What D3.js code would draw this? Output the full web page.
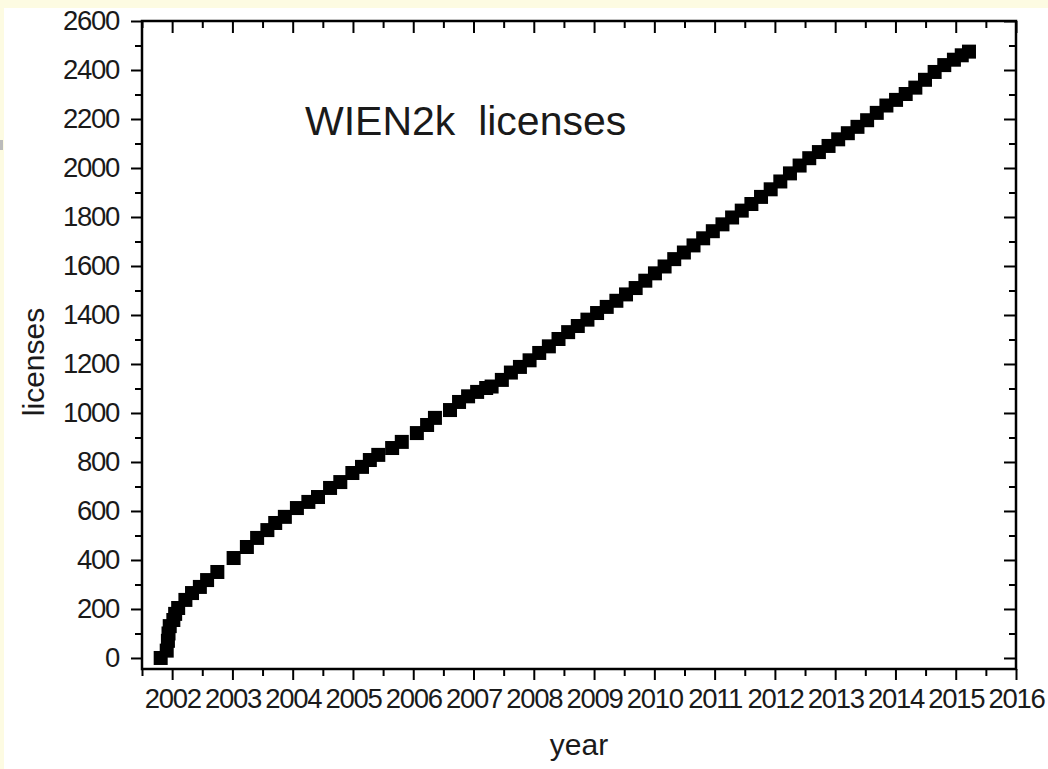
<!DOCTYPE html>
<html><head><meta charset="utf-8">
<script src="https://cdn.jsdelivr.net/npm/d3@7"></script>
<style>body{margin:0;background:#fff;overflow:hidden}</style>
</head><body>
<script>
const years = [2001.81, 2001.91, 2001.93, 2001.94, 2001.96, 2002.02, 2002.05, 2002.10, 2002.22, 2002.33, 2002.46, 2002.58, 2002.75,
  2003.02, 2003.24, 2003.41, 2003.58, 2003.71, 2003.87, 2004.07, 2004.26, 2004.42, 2004.62, 2004.79, 2004.99, 2005.15, 2005.28, 2005.42,
  2005.65, 2005.81, 2006.06, 2006.23, 2006.36,
  2006.61, 2006.76, 2006.91, 2007.06, 2007.21, 2007.30,
  2007.47, 2007.62, 2007.77, 2007.93, 2008.09, 2008.25, 2008.41, 2008.57, 2008.73, 2008.89, 2009.05, 2009.21, 2009.37,
  2009.53, 2009.69, 2009.85, 2010.01, 2010.17, 2010.33, 2010.49, 2010.65, 2010.81, 2010.97, 2011.13, 2011.29, 2011.45,
  2011.61, 2011.77, 2011.93, 2012.09, 2012.25, 2012.41, 2012.57, 2012.73, 2012.89, 2013.05, 2013.21, 2013.37, 2013.53,
  2013.69, 2013.85, 2014.01, 2014.17, 2014.33, 2014.49, 2014.65, 2014.81, 2014.97, 2015.10, 2015.22];
const licenses = [0, 30, 70, 100, 130, 155, 180, 204, 237, 265, 290, 318, 351,
  408, 453, 490, 522, 551, 576, 612, 637, 657, 694, 718, 755, 780, 808, 829,
  857, 882, 918, 951, 980,
  1012, 1045, 1068, 1086, 1102, 1108,
  1135, 1165, 1188, 1215, 1245, 1272, 1302, 1330, 1355, 1381, 1408, 1433, 1458,
  1484, 1510, 1540, 1570, 1598, 1628, 1655, 1684, 1713, 1742, 1770, 1798, 1826,
  1853, 1882, 1913, 1945, 1978, 2010, 2040, 2065, 2090, 2117, 2142, 2168, 2195,
  2225, 2255, 2278, 2302, 2328, 2360, 2392, 2420, 2442, 2460, 2475];
const xTickYears = d3.range(2002, 2017);
const xMinorYears = d3.range(2001.5, 2016, 1);
const yTickValues = d3.range(0, 2601, 200);
const yMinorValues = d3.range(100, 2600, 200);
const title = "WIEN2k\u00a0\u00a0licenses";
const xTitle = "year";
const yTitle = "licenses";

const W = 1048, H = 769;
const L = 142, R = 1016, T = 21, B = 669;
const font = "'Liberation Sans', Arial, sans-serif";

const svg = d3.select("body").append("svg").attr("width", W).attr("height", H);
// page background
svg.append("rect").attr("width", W).attr("height", H).attr("fill", "#fdfbe2");
svg.append("rect").attr("x", 4).attr("y", 8).attr("width", W - 4).attr("height", H - 8).attr("fill", "#fff");
svg.append("rect").attr("x", 0).attr("y", 140).attr("width", 3).attr("height", 10).attr("fill", "#bbb");

const x = d3.scaleLinear().domain([2001.5, 2016]).range([L, R]);
const y = d3.scaleLinear().domain([-45, 2600]).range([B, T]);

function styleAxis(g) {
  g.select(".domain").remove();
  g.selectAll("line").attr("stroke", "#000").attr("stroke-width", 2);
  g.selectAll("text").attr("font-family", font).attr("font-size", 27.5)
    .attr("letter-spacing", -1.3).attr("fill", "#1a1a1a");
}

// bottom axis (outward)
svg.append("g").attr("transform", `translate(0,${B})`)
  .call(d3.axisBottom(x).tickValues(xTickYears).tickSize(11).tickPadding(8).tickFormat(d3.format("d")))
  .call(styleAxis);
svg.append("g").attr("transform", `translate(0,${B})`)
  .call(d3.axisBottom(x).tickValues(xMinorYears).tickSize(7).tickFormat(""))
  .call(styleAxis);
// top axis (inward)
svg.append("g").attr("transform", `translate(0,${T})`)
  .call(d3.axisTop(x).tickValues(xTickYears).tickSize(-12).tickFormat(""))
  .call(styleAxis);
svg.append("g").attr("transform", `translate(0,${T})`)
  .call(d3.axisTop(x).tickValues(xMinorYears).tickSize(-7).tickFormat(""))
  .call(styleAxis);
// left axis (outward)
svg.append("g").attr("transform", `translate(${L},0)`)
  .call(d3.axisLeft(y).tickValues(yTickValues).tickSize(11).tickPadding(12).tickFormat(d3.format("d")))
  .call(styleAxis);
svg.append("g").attr("transform", `translate(${L},0)`)
  .call(d3.axisLeft(y).tickValues(yMinorValues).tickSize(7).tickFormat(""))
  .call(styleAxis);
// right axis (inward)
svg.append("g").attr("transform", `translate(${R},0)`)
  .call(d3.axisRight(y).tickValues(yTickValues).tickSize(-12).tickFormat(""))
  .call(styleAxis);
svg.append("g").attr("transform", `translate(${R},0)`)
  .call(d3.axisRight(y).tickValues(yMinorValues).tickSize(-7).tickFormat(""))
  .call(styleAxis);

// frame
svg.append("rect").attr("x", L).attr("y", T).attr("width", R - L).attr("height", B - T)
  .attr("fill", "none").attr("stroke", "#000").attr("stroke-width", 2.5);

// data squares
const sq = 14;
svg.append("g").selectAll("rect").data(years.map((d, i) => [d, licenses[i]])).join("rect")
  .attr("x", d => x(d[0]) - sq / 2).attr("y", d => y(d[1]) - sq / 2)
  .attr("width", sq).attr("height", sq).attr("fill", "#000");

// title
svg.append("text").attr("x", 305).attr("y", 135).attr("font-family", font).attr("font-size", 41)
  .attr("fill", "#1a1a1a").text(title);
// axis titles
svg.append("text").attr("x", (L + R) / 2).attr("y", 755).attr("text-anchor", "middle")
  .attr("font-family", font).attr("font-size", 30).attr("fill", "#1a1a1a").text(xTitle);
svg.append("text").attr("transform", `translate(44,362) rotate(-90)`).attr("text-anchor", "middle")
  .attr("font-family", font).attr("font-size", 30).attr("fill", "#1a1a1a").text(yTitle);
</script>
</body></html>
